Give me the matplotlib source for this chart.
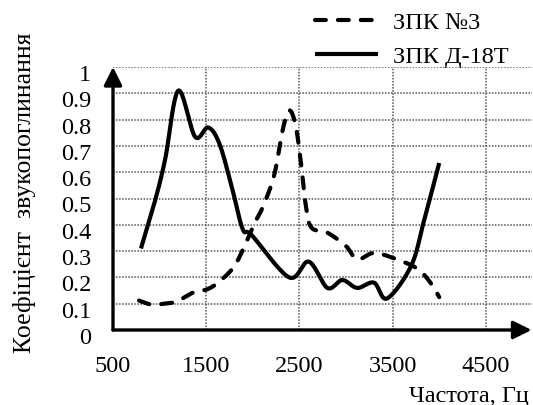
import numpy as np
import matplotlib.pyplot as plt
import matplotlib.transforms as mtransforms
from matplotlib import font_manager as fm

# ЗПК №3 (dashed)
freq_3 = [780, 910, 1050, 1180, 1370, 1520, 1660, 1800, 1910, 2010, 2110, 2230,
          2320, 2390, 2460, 2520, 2570, 2630, 2800, 3000, 3120, 3300, 3550, 3770,
          3910, 4000]
alpha_3 = [0.112, 0.097, 0.10, 0.108, 0.144, 0.156, 0.19, 0.242, 0.318, 0.40,
           0.47, 0.59, 0.76, 0.835, 0.777, 0.625, 0.47, 0.389, 0.37, 0.319,
           0.268, 0.293, 0.268, 0.232, 0.178, 0.125]

# ЗПК Д-18Т (solid)
freq_d18 = [800, 950, 1060, 1200, 1380, 1520, 1640, 1770, 1890, 1990, 2390, 2600,
            2800, 2960, 3120, 3300, 3440, 3700, 3840, 4000]
alpha_d18 = [0.31, 0.49, 0.65, 0.91, 0.735, 0.77, 0.71, 0.55, 0.385, 0.36, 0.2,
             0.26, 0.16, 0.19, 0.16, 0.18, 0.12, 0.245, 0.42, 0.635]

labels = ['ЗПК №3', 'ЗПК Д-18Т']
xticks = [500, 1500, 2500, 3500, 4500]
yticks = [0, 0.1, 0.2, 0.3, 0.4, 0.5, 0.6, 0.7, 0.8, 0.9, 1]
ytick_labels = ['0', '0.1', '0.2', '0.3', '0.4', '0.5', '0.6', '0.7', '0.8', '0.9', '1']


def smooth(xs, ys, n=20):
    # Catmull-Rom curve through the points, like Excel's "smoothed line"
    p = np.column_stack([np.asarray(xs, float) / 1000 * 93.2,
                         np.asarray(ys, float) * 263])
    p = np.vstack([p[0], p, p[-1]])
    out = []
    t = np.linspace(0, 1, n, endpoint=False)[:, None]
    for i in range(1, len(p) - 2):
        p0, p1, p2, p3 = p[i - 1], p[i], p[i + 1], p[i + 2]
        seg = 0.5 * ((2 * p1) + (-p0 + p2) * t + (2 * p0 - 5 * p1 + 4 * p2 - p3) * t ** 2
                     + (-p0 + 3 * p1 - 3 * p2 + p3) * t ** 3)
        out.append(seg)
    out.append(p[-2][None, :])
    out = np.vstack(out)
    return out[:, 0] / 93.2 * 1000, out[:, 1] / 263


# pick the regular Liberation Serif file explicitly
serif_file = None
for f in fm.fontManager.ttflist:
    if f.name == 'Liberation Serif' and 'Regular' in f.fname:
        serif_file = f.fname
        break
if serif_file:
    fp = fm.FontProperties(fname=serif_file, size=17.5)
    fp_lab = fm.FontProperties(fname=serif_file, size=18.5)
else:
    fp = fm.FontProperties(family='Liberation Serif', weight='normal', size=17.5)
    fp_lab = fm.FontProperties(family='Liberation Serif', weight='normal', size=18.5)

fig = plt.figure(figsize=(5.33, 4.06), dpi=100)
ax = fig.add_axes([113 / 533, 75 / 406, 418.5 / 533, 263 / 406])
ax.set_xlim(500, 4990)
ax.set_ylim(0, 1)

for s in ax.spines.values():
    s.set_visible(False)

ax.set_xticks(xticks)
ax.set_xticklabels([str(v) for v in xticks], fontproperties=fp)
ax.set_yticks(yticks)
ax.set_yticklabels(ytick_labels, fontproperties=fp)
ax.tick_params(length=0)
ax.tick_params(axis='y', pad=15.5)
ax.tick_params(axis='x', pad=18)
off = mtransforms.ScaledTranslation(0, -5 / 100, fig.dpi_scale_trans)
for lb in ax.get_yticklabels():
    lb.set_transform(lb.get_transform() + off)

ax.grid(True, color='#555555', linestyle=(0, (1, 1)), linewidth=1.1)
ax.set_axisbelow(True)

x3, y3 = smooth(freq_3, alpha_3)
xd, yd = smooth(freq_d18, alpha_d18)
l1, = ax.plot(x3, y3, color='black', lw=3, linestyle=(0, (2.6, 2.9)),
              dash_capstyle='round', label=labels[0], clip_on=False)
l2, = ax.plot(xd, yd, color='black', lw=3, label=labels[1], clip_on=False,
              solid_capstyle='butt')

# axes with arrows
arrow = dict(arrowstyle='-|>,head_length=1.0,head_width=0.5', color='black',
             lw=2.4, shrinkA=0, shrinkB=0, mutation_scale=11)
ax.annotate('', xy=(0, 1.0), xytext=(0, 0), xycoords='axes fraction',
            arrowprops=arrow, annotation_clip=False)
ax.annotate('', xy=(1.0, 0), xytext=(0, 0), xycoords='axes fraction',
            arrowprops=arrow, annotation_clip=False)

fig.legend(handles=[l1, l2], loc='upper left', bbox_to_anchor=(315 / 533, 1 - 12 / 406),
           frameon=False, borderpad=0, borderaxespad=0, handlelength=2.6,
           handletextpad=0.6, labelspacing=0.5, prop=fp)

fig.text(25 / 533, 1 - 193 / 406, 'Коефіцієнт  звукопоглинання', rotation=90,
         ha='center', va='center', fontproperties=fp_lab)
fig.text(529 / 533, 4 / 406, 'Частота, Гц', ha='right', va='baseline',
         fontproperties=fp)

fig.savefig('out.png', dpi=100)
